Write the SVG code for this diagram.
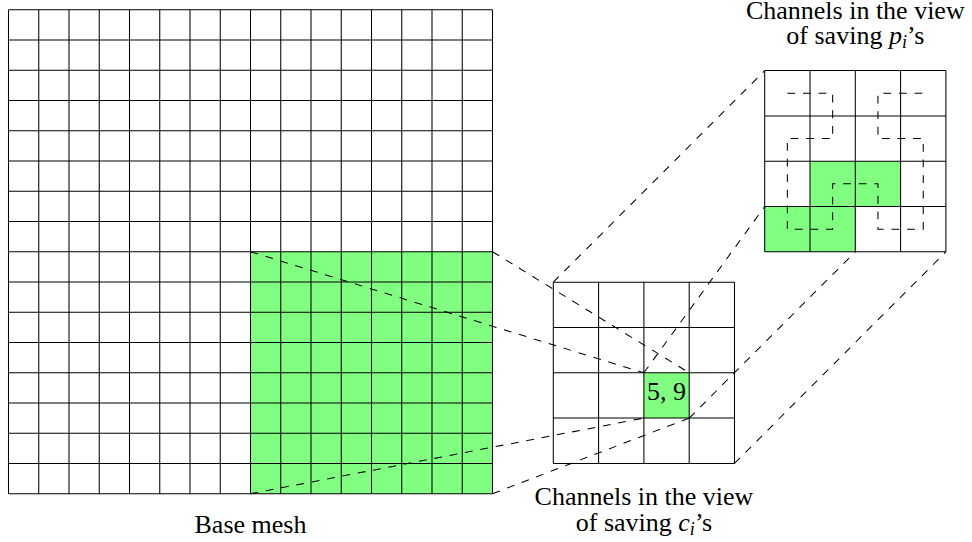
<svg xmlns="http://www.w3.org/2000/svg" width="972" height="542" viewBox="0 0 972 542">
<style>
.grid{fill:none;stroke:#000;stroke-width:1.04}
.hl{fill:#80ff80;stroke:none}
.dash{fill:none;stroke:#000;stroke-width:1.04;stroke-dasharray:7.8 7.8}
.lbl{font-family:"Liberation Serif","Times New Roman",serif;font-size:26px;fill:#000;text-anchor:middle}
.it{font-style:italic}
.sub{font-style:italic;font-size:18px}
</style>
<rect width="972" height="542" fill="#fff"/>
<g id="base-mesh">
<rect class="hl" x="250.5" y="251.7" width="242" height="242"/>
<path class="grid" d="M8.5,9.7V493.7M38.75,9.7V493.7M69,9.7V493.7M99.25,9.7V493.7M129.5,9.7V493.7M159.75,9.7V493.7M190,9.7V493.7M220.25,9.7V493.7M250.5,9.7V493.7M280.75,9.7V493.7M311,9.7V493.7M341.25,9.7V493.7M371.5,9.7V493.7M401.75,9.7V493.7M432,9.7V493.7M462.25,9.7V493.7M492.5,9.7V493.7M8.5,9.7H492.5M8.5,39.95H492.5M8.5,70.2H492.5M8.5,100.45H492.5M8.5,130.7H492.5M8.5,160.95H492.5M8.5,191.2H492.5M8.5,221.45H492.5M8.5,251.7H492.5M8.5,281.95H492.5M8.5,312.2H492.5M8.5,342.45H492.5M8.5,372.7H492.5M8.5,402.95H492.5M8.5,433.2H492.5M8.5,463.45H492.5M8.5,493.7H492.5"/>
<text class="lbl" x="250.5" y="533">Base mesh</text>
</g>
<g id="channels-c">
<rect class="hl" x="643.9" y="372.8" width="45.3" height="45.3"/>
<path class="grid" d="M553.3,282.2V463.4M598.6,282.2V463.4M643.9,282.2V463.4M689.2,282.2V463.4M734.5,282.2V463.4M553.3,282.2H734.5M553.3,327.5H734.5M553.3,372.8H734.5M553.3,418.1H734.5M553.3,463.4H734.5"/>
<text class="lbl" x="666.5" y="399.5">5, 9</text>
<text class="lbl" x="644" y="505">Channels in the view</text>
<text class="lbl" x="644" y="531">of saving <tspan class="it">c</tspan><tspan class="sub" dy="4">i</tspan><tspan dy="-4">’s</tspan></text>
</g>
<g id="channels-p">
<path class="hl" d="M810,161.2H900.6V206.5H855.3V251.8H764.7V206.5H810Z"/>
<path class="grid" d="M764.7,70.6V251.8M810,70.6V251.8M855.3,70.6V251.8M900.6,70.6V251.8M945.9,70.6V251.8M764.7,70.6H945.9M764.7,115.9H945.9M764.7,161.2H945.9M764.7,206.5H945.9M764.7,251.8H945.9"/>
<path class="dash" d="M787.35,93.25H832.65V138.55H787.35V229.15H832.65V183.85H877.95V229.15H923.25V138.55H877.95V93.25H923.25"/>
<text class="lbl" x="855.3" y="18.5">Channels in the view</text>
<text class="lbl" x="855.3" y="44">of saving <tspan class="it">p</tspan><tspan class="sub" dy="4">i</tspan><tspan dy="-4">’s</tspan></text>
</g>
<g id="connectors">
<path class="dash" d="M250.5,251.7L643.9,372.8"/>
<path class="dash" d="M492.5,251.7L689.2,372.8"/>
<path class="dash" d="M250.5,493.7L643.9,418.1"/>
<path class="dash" d="M492.5,493.7L689.2,418.1"/>
<path class="dash" d="M553.3,282.2L764.7,70.6"/>
<path class="dash" d="M734.5,463.4L945.9,251.8"/>
<path class="dash" d="M643.9,372.8L764.7,206.5"/>
<path class="dash" d="M689.2,418.1L855.3,251.8"/>
</g>
</svg>
